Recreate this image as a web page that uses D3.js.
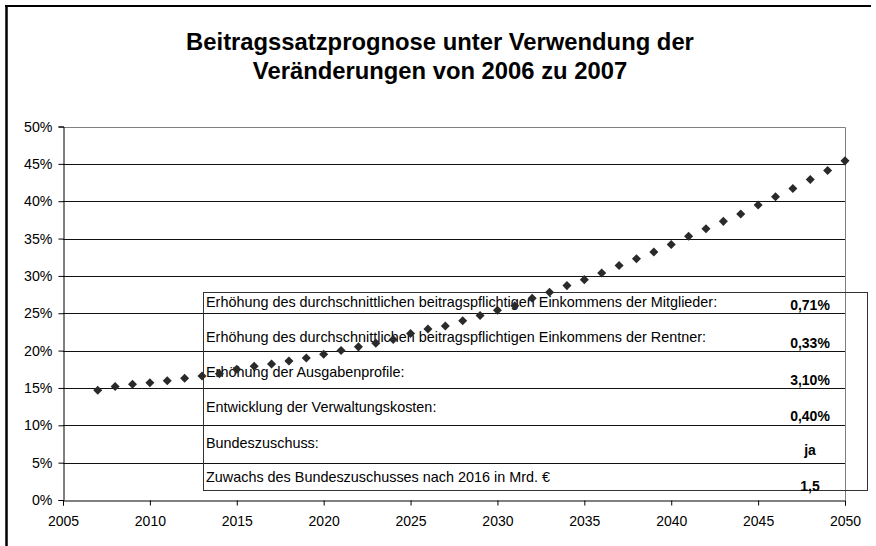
<!DOCTYPE html>
<html><head><meta charset="utf-8">
<script src="https://cdn.jsdelivr.net/npm/d3@7"></script>
<style>
html,body{margin:0;padding:0;background:#fff;}
svg{display:block;font-family:"Liberation Sans",Arial,sans-serif;}
</style></head>
<body>
<svg id="c" width="876" height="546"></svg>
<script>
const titleLines = ["Beitragssatzprognose unter Verwendung der", "Veränderungen von 2006 zu 2007"];
const years = [2007,2008,2009,2010,2011,2012,2013,2014,2015,2016,2017,2018,2019,2020,2021,2022,2023,2024,2025,2026,2027,2028,2029,2030,2031,2032,2033,2034,2035,2036,2037,2038,2039,2040,2041,2042,2043,2044,2045,2046,2047,2048,2049,2050];
const rates = [14.7,15.2,15.5,15.7,15.95,16.3,16.6,16.9,17.5,17.9,18.2,18.6,19.0,19.5,20.0,20.5,21.0,21.5,22.3,22.9,23.3,24.0,24.7,25.4,26.0,27.0,27.8,28.7,29.5,30.4,31.4,32.3,33.2,34.2,35.3,36.3,37.3,38.3,39.5,40.6,41.7,42.9,44.1,45.4];
const xTicks = [2005,2010,2015,2020,2025,2030,2035,2040,2045,2050];
const yTicks = [0,5,10,15,20,25,30,35,40,45,50];
const tableLabels = [
  "Erhöhung des durchschnittlichen beitragspflichtigen Einkommens der Mitglieder:",
  "Erhöhung des durchschnittlichen beitragspflichtigen Einkommens der Rentner:",
  "Erhöhung der Ausgabenprofile:",
  "Entwicklung der Verwaltungskosten:",
  "Bundeszuschuss:",
  "Zuwachs des Bundeszuschusses nach 2016 in Mrd. €"
];
const tableValues = ["0,71%","0,33%","3,10%","0,40%","ja","1,5"];

const svg = d3.select("#c");
const L = 63, R = 845, T = 126.5, B = 500;
const x = d3.scaleLinear().domain([2005, 2050]).range([L, R]);
const y = d3.scaleLinear().domain([0, 50]).range([B, T]);

// outer chart border (top & left visible)
svg.append("line").attr("x1",5).attr("x2",871).attr("y1",6).attr("y2",6).attr("stroke","#000").attr("stroke-width",2.2);
svg.append("line").attr("x1",6.5).attr("x2",6.5).attr("y1",5).attr("y2",546).attr("stroke","#000").attr("stroke-width",2.5);

// title
svg.append("text").attr("x",440).attr("y",50).attr("text-anchor","middle")
  .attr("font-size",23.8).attr("font-weight","bold").text(titleLines[0]);
svg.append("text").attr("x",440).attr("y",79).attr("text-anchor","middle")
  .attr("font-size",23.8).attr("font-weight","bold").text(titleLines[1]);

// gridlines
svg.append("g").selectAll("line").data(yTicks.filter(d => d > 0 && d < 50)).join("line")
  .attr("x1",L).attr("x2",R).attr("y1",d => Math.round(y(d))+0.5).attr("y2",d => Math.round(y(d))+0.5)
  .attr("stroke","#111").attr("stroke-width",1);
// plot border top/right (gray)
svg.append("line").attr("x1",L).attr("x2",R+0.5).attr("y1",Math.round(y(50))+0.5).attr("y2",Math.round(y(50))+0.5).attr("stroke","#808080");
svg.append("line").attr("x1",R+0.5).attr("x2",R+0.5).attr("y1",Math.round(y(50))+0.5).attr("y2",B).attr("stroke","#808080");

// axes
const yAxis = d3.axisLeft(y).tickValues(yTicks).tickSize(5).tickPadding(6).tickFormat(d => d + "%");
const gy = svg.append("g").attr("transform",`translate(${L+0.5},0)`).call(yAxis);
gy.attr("font-family",null);
gy.select(".domain").attr("stroke","#000");
gy.selectAll(".tick line").attr("stroke","#000");
gy.selectAll("text").attr("font-size",14.2).attr("fill","#000");

const xAxis = d3.axisBottom(x).tickValues(xTicks).tickSize(5).tickPadding(11).tickFormat(d3.format("d"));
const gx = svg.append("g").attr("transform",`translate(0,${B+0.5})`).call(xAxis);
gx.attr("font-family",null);
gx.select(".domain").attr("stroke","#000");
gx.selectAll(".tick line").attr("stroke","#000");
gx.selectAll("text").attr("font-size",14).attr("fill","#000");

// table box
const tbl = svg.append("g");
tbl.append("rect").attr("x",203.5).attr("y",292.5).attr("width",664).attr("height",198)
  .attr("fill","none").attr("stroke","#333").attr("stroke-width",1);
const labelBase = [307, 342, 377, 412, 448, 482];
const valueBase = [310, 348, 385, 421, 455, 491];
tbl.selectAll("text.lab").data(tableLabels).join("text").attr("class","lab")
  .attr("x",206).attr("y",(d,i) => labelBase[i]).attr("font-size",14.4).attr("fill","#000").text(d => d);
tbl.selectAll("text.val").data(tableValues).join("text").attr("class","val")
  .attr("x",810).attr("y",(d,i) => valueBase[i]).attr("text-anchor","middle")
  .attr("font-size",14).attr("font-weight","bold").attr("fill","#000").text(d => d);

// markers
const sym = d3.symbol().type(d3.symbolDiamond2).size(52);
svg.append("g").selectAll("path").data(years.map((yr,i) => [yr, rates[i]])).join("path")
  .attr("transform", d => `translate(${x(d[0])},${y(d[1])})`)
  .attr("d", sym).attr("fill","#2a2a2a");
</script>
</body></html>
